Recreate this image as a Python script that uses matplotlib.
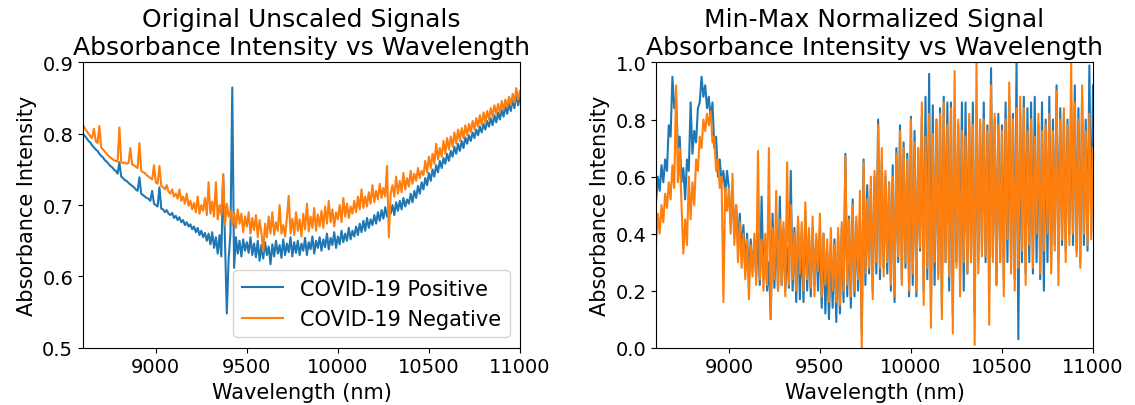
import numpy as np
import matplotlib
matplotlib.use("Agg")
import matplotlib.pyplot as plt

# wavelength grid (nm), one sample every 10 nm
wavelength = np.linspace(8600, 11000, 241)

# raw absorbance
pos_raw = [
    0.800, 0.797, 0.794, 0.790, 0.788, 0.784, 0.781, 0.778, 0.776, 0.772,
    0.769, 0.767, 0.763, 0.761, 0.758, 0.755, 0.753, 0.750, 0.748, 0.744,
    0.760, 0.740, 0.738, 0.735, 0.734, 0.731, 0.729, 0.727, 0.725, 0.722,
    0.720, 0.739, 0.716, 0.714, 0.712, 0.710, 0.709, 0.706, 0.720, 0.702,
    0.700, 0.698, 0.725, 0.695, 0.694, 0.690, 0.693, 0.688, 0.686, 0.689,
    0.682, 0.685, 0.679, 0.683, 0.676, 0.679, 0.672, 0.676, 0.670, 0.673,
    0.666, 0.670, 0.662, 0.668, 0.658, 0.664, 0.655, 0.661, 0.650, 0.660,
    0.645, 0.662, 0.640, 0.655, 0.632, 0.658, 0.628, 0.743, 0.650, 0.548,
    0.625, 0.660, 0.865, 0.612, 0.655, 0.632, 0.650, 0.628, 0.652, 0.636,
    0.648, 0.633, 0.655, 0.630, 0.646, 0.627, 0.650, 0.622, 0.644, 0.625,
    0.648, 0.630, 0.642, 0.617, 0.645, 0.628, 0.650, 0.632, 0.644, 0.626,
    0.652, 0.630, 0.646, 0.634, 0.655, 0.628, 0.648, 0.633, 0.650, 0.630,
    0.646, 0.636, 0.654, 0.630, 0.648, 0.638, 0.656, 0.632, 0.650, 0.640,
    0.655, 0.636, 0.652, 0.641, 0.660, 0.638, 0.654, 0.644, 0.662, 0.640,
    0.656, 0.645, 0.664, 0.648, 0.660, 0.650, 0.668, 0.652, 0.664, 0.656,
    0.670, 0.658, 0.674, 0.662, 0.678, 0.664, 0.682, 0.668, 0.680, 0.672,
    0.686, 0.674, 0.690, 0.678, 0.693, 0.681, 0.697, 0.684, 0.694, 0.688,
    0.700, 0.686, 0.704, 0.692, 0.706, 0.694, 0.710, 0.698, 0.708, 0.702,
    0.716, 0.704, 0.720, 0.710, 0.727, 0.716, 0.732, 0.722, 0.738, 0.728,
    0.745, 0.734, 0.750, 0.740, 0.756, 0.746, 0.762, 0.752, 0.766, 0.758,
    0.772, 0.762, 0.776, 0.768, 0.782, 0.772, 0.786, 0.776, 0.790, 0.780,
    0.795, 0.786, 0.798, 0.790, 0.802, 0.794, 0.806, 0.798, 0.810, 0.802,
    0.814, 0.806, 0.818, 0.810, 0.822, 0.812, 0.826, 0.816, 0.830, 0.820,
    0.834, 0.824, 0.838, 0.828, 0.842, 0.832, 0.848, 0.836, 0.856, 0.840,
    0.852,
]
neg_raw = [
    0.812, 0.808, 0.804, 0.800, 0.797, 0.794, 0.807, 0.790, 0.787, 0.811,
    0.781, 0.778, 0.775, 0.772, 0.769, 0.767, 0.765, 0.763, 0.762, 0.761,
    0.809, 0.760, 0.759, 0.760, 0.758, 0.759, 0.780, 0.757, 0.756, 0.754,
    0.752, 0.787, 0.748, 0.746, 0.745, 0.742, 0.740, 0.738, 0.736, 0.756,
    0.732, 0.730, 0.755, 0.727, 0.725, 0.722, 0.728, 0.719, 0.716, 0.722,
    0.712, 0.716, 0.709, 0.722, 0.706, 0.712, 0.702, 0.716, 0.699, 0.706,
    0.694, 0.703, 0.690, 0.712, 0.688, 0.700, 0.692, 0.710, 0.686, 0.732,
    0.688, 0.705, 0.684, 0.732, 0.680, 0.700, 0.686, 0.743, 0.672, 0.702,
    0.684, 0.692, 0.672, 0.690, 0.668, 0.694, 0.674, 0.688, 0.662, 0.684,
    0.670, 0.690, 0.660, 0.682, 0.665, 0.686, 0.655, 0.679, 0.662, 0.635,
    0.674, 0.655, 0.684, 0.660, 0.690, 0.658, 0.676, 0.664, 0.700, 0.660,
    0.672, 0.656, 0.682, 0.713, 0.660, 0.681, 0.658, 0.690, 0.664, 0.680,
    0.656, 0.688, 0.666, 0.702, 0.663, 0.684, 0.668, 0.696, 0.664, 0.687,
    0.670, 0.692, 0.668, 0.698, 0.674, 0.706, 0.676, 0.694, 0.670, 0.690,
    0.680, 0.700, 0.676, 0.710, 0.684, 0.702, 0.682, 0.698, 0.688, 0.706,
    0.690, 0.712, 0.694, 0.722, 0.696, 0.712, 0.698, 0.718, 0.702, 0.728,
    0.704, 0.720, 0.708, 0.730, 0.710, 0.724, 0.712, 0.755, 0.655, 0.716,
    0.728, 0.712, 0.740, 0.716, 0.734, 0.718, 0.745, 0.722, 0.738, 0.726,
    0.748, 0.730, 0.744, 0.734, 0.752, 0.738, 0.748, 0.742, 0.762, 0.746,
    0.768, 0.752, 0.772, 0.758, 0.786, 0.764, 0.780, 0.768, 0.790, 0.772,
    0.794, 0.778, 0.796, 0.782, 0.802, 0.786, 0.806, 0.790, 0.808, 0.794,
    0.812, 0.798, 0.814, 0.802, 0.818, 0.806, 0.822, 0.810, 0.826, 0.812,
    0.830, 0.816, 0.832, 0.820, 0.836, 0.824, 0.840, 0.828, 0.842, 0.830,
    0.846, 0.834, 0.848, 0.838, 0.852, 0.840, 0.856, 0.844, 0.864, 0.848,
    0.860,
]

# min-max normalized signal
pos_norm = [
    0.51, 0.60, 0.55, 0.64, 0.58, 0.66, 0.62, 0.78, 0.74, 0.95,
    0.84, 0.88, 0.70, 0.74, 0.58, 0.63, 0.52, 0.66, 0.62, 0.86,
    0.68, 0.76, 0.72, 0.84, 0.86, 0.95, 0.88, 0.92, 0.84, 0.88,
    0.80, 0.86, 0.70, 0.74, 0.60, 0.66, 0.58, 0.62, 0.54, 0.62,
    0.56, 0.44, 0.54, 0.40, 0.50, 0.36, 0.47, 0.33, 0.43, 0.28,
    0.40, 0.24, 0.38, 0.28, 0.36, 0.25, 0.40, 0.22, 0.53, 0.24,
    0.38, 0.20, 0.30, 0.10, 0.47, 0.21, 0.41, 0.20, 0.53, 0.22,
    0.42, 0.20, 0.35, 0.21, 0.62, 0.20, 0.42, 0.16, 0.44, 0.17,
    0.40, 0.16, 0.48, 0.20, 0.40, 0.18, 0.42, 0.22, 0.38, 0.20,
    0.42, 0.14, 0.40, 0.12, 0.33, 0.10, 0.36, 0.14, 0.38, 0.09,
    0.40, 0.12, 0.42, 0.16, 0.68, 0.18, 0.46, 0.14, 0.52, 0.18,
    0.44, 0.20, 0.46, 0.05, 0.66, 0.22, 0.57, 0.26, 0.56, 0.20,
    0.60, 0.26, 0.80, 0.24, 0.66, 0.28, 0.60, 0.26, 0.58, 0.20,
    0.64, 0.16, 0.70, 0.30, 0.78, 0.24, 0.72, 0.28, 0.68, 0.18,
    0.81, 0.22, 0.76, 0.18, 0.70, 0.34, 0.81, 0.20, 0.88, 0.24,
    0.96, 0.12, 0.85, 0.22, 0.80, 0.26, 0.84, 0.14, 0.88, 0.30,
    0.86, 0.20, 0.86, 0.12, 0.84, 0.30, 0.78, 0.24, 0.86, 0.20,
    0.86, 0.26, 0.80, 0.30, 0.86, 0.12, 0.84, 0.30, 0.78, 0.34,
    0.86, 0.30, 0.78, 0.20, 0.98, 0.32, 0.80, 0.22, 0.82, 0.30,
    0.78, 0.24, 0.86, 0.30, 0.88, 0.28, 0.82, 0.24, 1.00, 0.03,
    0.82, 0.30, 0.88, 0.26, 0.84, 0.30, 0.86, 0.26, 0.88, 0.30,
    0.78, 0.24, 0.86, 0.20, 0.80, 0.30, 0.88, 0.28, 0.80, 0.36,
    0.92, 0.30, 0.84, 0.36, 0.82, 0.34, 0.80, 0.40, 0.86, 0.36,
    0.92, 0.34, 0.84, 0.30, 0.88, 0.36, 0.80, 0.34, 0.99, 0.40,
    0.92,
]
neg_norm = [
    0.36, 0.47, 0.40, 0.50, 0.44, 0.54, 0.49, 0.58, 0.52, 0.64,
    0.56, 0.92, 0.58, 0.70, 0.50, 0.33, 0.45, 0.36, 0.60, 0.45,
    0.58, 0.50, 0.66, 0.62, 0.74, 0.70, 0.80, 0.76, 0.82, 0.78,
    0.83, 0.72, 0.74, 0.62, 0.66, 0.56, 0.60, 0.16, 0.56, 0.48,
    0.56, 0.40, 0.61, 0.36, 0.50, 0.30, 0.44, 0.28, 0.40, 0.24,
    0.38, 0.17, 0.36, 0.25, 0.40, 0.22, 0.69, 0.24, 0.38, 0.20,
    0.40, 0.22, 0.70, 0.10, 0.42, 0.24, 0.55, 0.20, 0.45, 0.22,
    0.44, 0.18, 0.65, 0.22, 0.50, 0.24, 0.40, 0.20, 0.46, 0.26,
    0.44, 0.20, 0.51, 0.24, 0.42, 0.21, 0.46, 0.18, 0.40, 0.27,
    0.47, 0.18, 0.40, 0.22, 0.38, 0.16, 0.42, 0.20, 0.36, 0.16,
    0.42, 0.15, 0.44, 0.20, 0.67, 0.22, 0.45, 0.18, 0.50, 0.20,
    0.46, 0.24, 0.55, 0.00, 0.65, 0.26, 0.52, 0.28, 0.60, 0.17,
    0.62, 0.30, 0.78, 0.28, 0.70, 0.25, 0.62, 0.30, 0.58, 0.22,
    0.60, 0.18, 0.68, 0.32, 0.76, 0.22, 0.70, 0.30, 0.66, 0.20,
    0.80, 0.26, 0.72, 0.20, 0.70, 0.35, 0.86, 0.15, 0.74, 0.28,
    0.82, 0.07, 0.75, 0.30, 0.80, 0.24, 0.82, 0.10, 0.86, 0.30,
    0.78, 0.25, 0.84, 0.05, 0.97, 0.28, 0.80, 0.18, 0.76, 0.30,
    0.74, 0.26, 0.82, 0.30, 0.78, 0.01, 1.00, 0.26, 0.80, 0.32,
    0.80, 0.32, 0.76, 0.08, 0.92, 0.30, 0.82, 0.22, 0.78, 0.30,
    0.76, 0.18, 0.80, 0.38, 0.93, 0.26, 0.80, 0.20, 0.84, 0.28,
    0.88, 0.34, 0.84, 0.22, 0.76, 0.36, 0.80, 0.28, 0.74, 0.40,
    0.82, 0.26, 0.76, 0.34, 0.78, 0.40, 0.82, 0.26, 0.76, 0.34,
    0.90, 0.22, 0.80, 0.38, 0.84, 0.30, 0.78, 0.36, 1.00, 0.40,
    0.86, 0.32, 0.80, 0.28, 0.92, 0.40, 0.76, 0.36, 0.82, 0.38,
    0.70,
]

xticks = [9000, 9500, 10000, 10500, 11000]

fig = plt.figure(figsize=(11.35, 4.06), dpi=100)
ax1 = fig.add_axes([0.0731, 0.1411, 0.385, 0.7025])
ax2 = fig.add_axes([0.578, 0.1411, 0.385, 0.7025])

ax1.plot(wavelength, pos_raw, color="#1f77b4", label="COVID-19 Positive")
ax1.plot(wavelength, neg_raw, color="#ff7f0e", label="COVID-19 Negative")
ax1.set_xlim(8600, 11000)
ax1.set_ylim(0.5, 0.9)
ax1.set_yticks([0.5, 0.6, 0.7, 0.8, 0.9])
ax1.set_title("Original Unscaled Signals\nAbsorbance Intensity vs Wavelength", fontsize=18)
ax1.legend(loc="lower right", fontsize=15)

ax2.plot(wavelength, pos_norm, color="#1f77b4")
ax2.plot(wavelength, neg_norm, color="#ff7f0e")
ax2.set_xlim(8600, 11000)
ax2.set_ylim(0, 1)
ax2.set_title("Min-Max Normalized Signal\nAbsorbance Intensity vs Wavelength", fontsize=18)

for ax in (ax1, ax2):
    ax.set_xticks(xticks)
    ax.set_xlabel("Wavelength (nm)", fontsize=15)
    ax.set_ylabel("Absorbance Intensity", fontsize=15)
    ax.tick_params(labelsize=14)

fig.savefig("out.png", dpi=100)
